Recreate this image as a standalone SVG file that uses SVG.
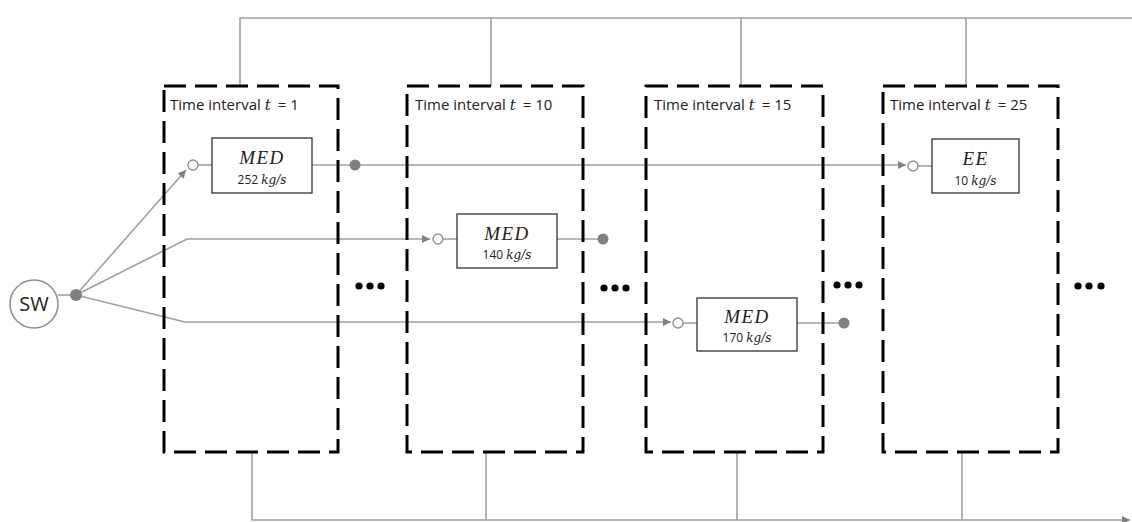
<svg xmlns="http://www.w3.org/2000/svg" width="1132" height="522" viewBox="0 0 1132 522">
<style>
.frame{fill:none;stroke:#000;stroke-width:3;stroke-dasharray:22 9}
.con{fill:none;stroke:#a0a0a0;stroke-width:1.6}
.dot{fill:#808080}
.port{fill:#fff;stroke:#909090;stroke-width:1.4}
.box{fill:#fff;stroke:#333;stroke-width:1.3}
.lbl{font-family:"Open Sans","Noto Sans",sans-serif;font-size:15px;fill:#222}
.math{font-family:"DejaVu Serif","Liberation Serif",serif;font-style:italic}
.name{font-family:"Liberation Serif",serif;font-style:italic;font-size:19px;fill:#222;letter-spacing:1.5px}
.rate{font-family:"Open Sans","Noto Sans",sans-serif;font-size:12px;fill:#222}
.ell{fill:#000}
</style>
<defs>
<marker id="ah" viewBox="0 0 10 10" refX="10" refY="5" markerWidth="10" markerHeight="8" markerUnits="userSpaceOnUse" orient="auto">
<path d="M0,0 L10,5 L0,10 z" fill="#808080"/>
</marker>
</defs>

<g id="connectors">
<path class="con" d="M240,86 V18 H1132"/>
<path class="con" d="M491,86 V18"/>
<path class="con" d="M741,86 V18"/>
<path class="con" d="M966,86 V18"/>
<path class="con" d="M252,452 V520 H1130" marker-end="url(#ah)"/>
<path class="con" d="M486,452 V520"/>
<path class="con" d="M737,452 V520"/>
<path class="con" d="M962,452 V520"/>
<path class="con" d="M58,295 H76"/>
<path class="con" d="M76,295 L186,170" marker-end="url(#ah)"/>
<path class="con" d="M76,295 L187,239 H430" marker-end="url(#ah)"/>
<path class="con" d="M76,295 L185,322 H671" marker-end="url(#ah)"/>
<path class="con" d="M198,165 H212"/>
<path class="con" d="M312,165 H355 H906" marker-end="url(#ah)"/>
<path class="con" d="M443,239 H457"/>
<path class="con" d="M557,239 H603"/>
<path class="con" d="M683,323 H697"/>
<path class="con" d="M797,323 H844"/>
<path class="con" d="M918,166 H932"/>
</g>

<g id="sw">
<circle cx="34" cy="304" r="24" fill="#fff" stroke="#909090" stroke-width="1.6"/>
<text x="34" y="311" text-anchor="middle" font-family="Open Sans, Noto Sans, sans-serif" font-size="20" fill="#222">SW</text>
<circle class="dot" cx="76" cy="295" r="6"/>
</g>

<g id="interval1">
<rect class="frame" x="164" y="86" width="174" height="366"/>
<text class="lbl" x="170" y="110">Time interval <tspan class="math">t</tspan><tspan dx="7">= 1</tspan></text>
</g>
<g id="interval10">
<rect class="frame" x="407" y="86" width="176" height="366"/>
<text class="lbl" x="415" y="110">Time interval <tspan class="math">t</tspan><tspan dx="7">= 10</tspan></text>
</g>
<g id="interval15">
<rect class="frame" x="646" y="86" width="177" height="366"/>
<text class="lbl" x="654" y="110">Time interval <tspan class="math">t</tspan><tspan dx="7">= 15</tspan></text>
</g>
<g id="interval25">
<rect class="frame" x="883" y="86" width="175" height="366"/>
<text class="lbl" x="890" y="110">Time interval <tspan class="math">t</tspan><tspan dx="7">= 25</tspan></text>
</g>

<g id="med1">
<circle class="port" cx="193" cy="165" r="5"/>
<rect class="box" x="212" y="138" width="100" height="55"/>
<text class="name" x="262" y="164" text-anchor="middle">MED</text>
<text class="rate" x="262" y="184" text-anchor="middle">252 <tspan class="math">kg/s</tspan></text>
<circle class="dot" cx="355" cy="165" r="5.5"/>
</g>
<g id="med10">
<circle class="port" cx="438" cy="239" r="5"/>
<rect class="box" x="457" y="214" width="100" height="54"/>
<text class="name" x="507" y="240" text-anchor="middle">MED</text>
<text class="rate" x="507" y="259" text-anchor="middle">140 <tspan class="math">kg/s</tspan></text>
<circle class="dot" cx="603" cy="239" r="5.5"/>
</g>
<g id="med15">
<circle class="port" cx="678" cy="323" r="5"/>
<rect class="box" x="697" y="298" width="100" height="53"/>
<text class="name" x="747" y="323" text-anchor="middle">MED</text>
<text class="rate" x="747" y="342" text-anchor="middle">170 <tspan class="math">kg/s</tspan></text>
<circle class="dot" cx="844" cy="323" r="5.5"/>
</g>
<g id="ee25">
<circle class="port" cx="913" cy="166" r="5"/>
<rect class="box" x="932" y="139" width="87" height="54"/>
<text class="name" x="975.5" y="165" text-anchor="middle">EE</text>
<text class="rate" x="975.5" y="185" text-anchor="middle">10 <tspan class="math">kg/s</tspan></text>
</g>

<g id="ellipses">
<circle class="ell" cx="359" cy="286" r="3.6"/><circle class="ell" cx="370" cy="286" r="3.6"/><circle class="ell" cx="381" cy="286" r="3.6"/>
<circle class="ell" cx="604" cy="288" r="3.6"/><circle class="ell" cx="615" cy="288" r="3.6"/><circle class="ell" cx="626" cy="288" r="3.6"/>
<circle class="ell" cx="837" cy="285" r="3.6"/><circle class="ell" cx="848" cy="285" r="3.6"/><circle class="ell" cx="859" cy="285" r="3.6"/>
<circle class="ell" cx="1078" cy="286" r="3.6"/><circle class="ell" cx="1089" cy="286" r="3.6"/><circle class="ell" cx="1101" cy="286" r="3.6"/>
</g>
</svg>
